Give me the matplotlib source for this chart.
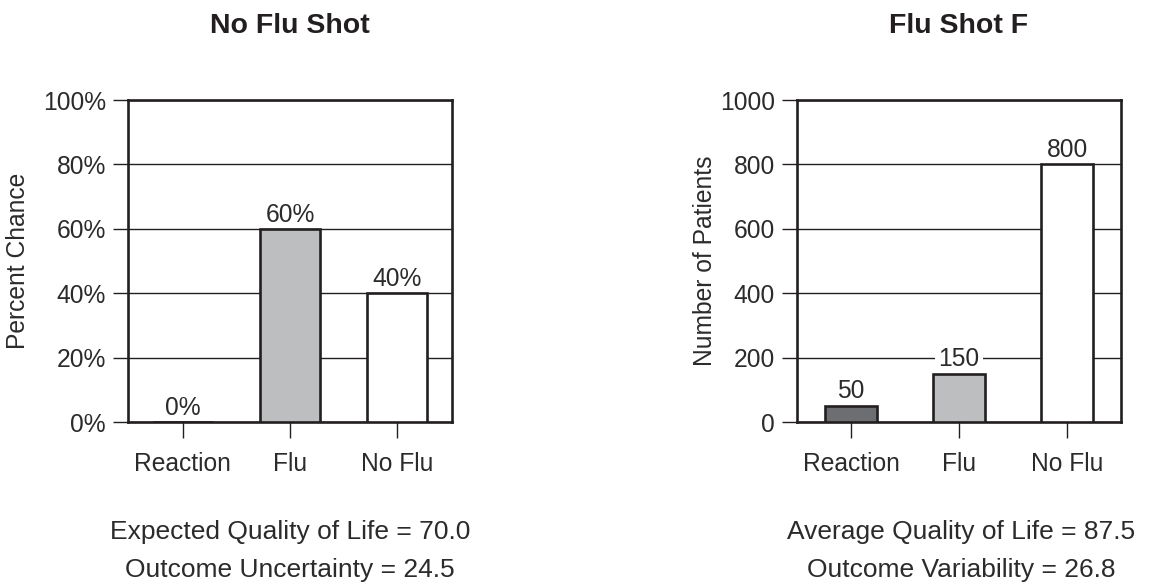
import matplotlib
matplotlib.use("Agg")
import matplotlib.pyplot as plt

plt.rcParams['font.family'] = ['Liberation Sans', 'DejaVu Sans']

categories = ["Reaction", "Flu", "No Flu"]
no_shot_pct = [0, 60, 40]
shot_counts = [50, 150, 800]
bar_colors = ["#6d6e71", "#bcbec0", "#ffffff"]

left_title = "No Flu Shot"
right_title = "Flu Shot F"
left_ylabel = "Percent Chance"
right_ylabel = "Number of Patients"
left_notes = ["Expected Quality of Life = 70.0", "Outcome Uncertainty = 24.5"]
right_notes = ["Average Quality of Life = 87.5", "Outcome Variability = 26.8"]
left_yticks = [0, 20, 40, 60, 80, 100]
left_yticklabels = ["0%", "20%", "40%", "60%", "80%", "100%"]
right_yticks = [0, 200, 400, 600, 800, 1000]

INK = "#231f20"
TXT = "#2b2b2b"
W, H = 1164, 586
fig = plt.figure(figsize=(W / 100, H / 100), dpi=100)

def px_ax(x0, y0, x1, y1):
    return fig.add_axes([x0 / W, 1 - y1 / H, (x1 - x0) / W, (y1 - y0) / H])

def style(ax, ymax, yticks, yticklabels):
    ax.set_ylim(0, ymax)
    ax.set_yticks(yticks)
    ax.set_yticklabels(yticklabels)
    ax.set_xticks(range(len(categories)))
    ax.set_xticklabels(categories)
    ax.set_axisbelow(True)
    ax.yaxis.grid(True, color=INK, linewidth=1.0)
    for s in ax.spines.values():
        s.set_linewidth(1.9)
        s.set_color(INK)
    ax.tick_params(axis='y', direction='out', length=10.8, width=1.0, pad=5,
                   labelsize=17.7, colors=INK, labelcolor=TXT)
    ax.tick_params(axis='x', direction='out', length=11.5, width=1.0, pad=10,
                   labelsize=17.7, colors=INK, labelcolor=TXT)

# Left panel
ax1 = px_ax(128, 100, 452, 422)
ax1.bar(range(3), no_shot_pct, width=0.56, color=bar_colors,
        edgecolor=INK, linewidth=1.9, zorder=3)
style(ax1, 100, left_yticks, left_yticklabels)
ax1.set_xlim(-0.51, 2.51)
for i, v in enumerate(no_shot_pct):
    ax1.annotate(f"{v}%", (i, v), xytext=(0, 1.5), textcoords='offset points',
                 ha='center', va='bottom', fontsize=17.7, color=TXT, zorder=4)

# Right panel
ax2 = px_ax(797, 100, 1121, 422)
ax2.bar(range(3), shot_counts, width=0.48, color=bar_colors,
        edgecolor=INK, linewidth=1.9, zorder=3)
style(ax2, 1000, right_yticks, [str(t) for t in right_yticks])
ax2.set_xlim(-0.5, 2.5)
for i, v in enumerate(shot_counts):
    ax2.annotate(f"{v}", (i, v), xytext=(0, 2), textcoords='offset points',
                 ha='center', va='bottom', fontsize=17.7, color=TXT, zorder=2.5,
                 bbox=dict(boxstyle='square,pad=0.15', fc='white', ec='none'))

# Titles
fig.text(290 / W, 1 - 26 / H, left_title, ha='center', va='center',
         fontsize=20.5, fontweight='bold', color=INK)
fig.text(959 / W, 1 - 26 / H, right_title, ha='center', va='center',
         fontsize=20.5, fontweight='bold', color=INK)

# Y labels
fig.text(18 / W, 1 - 261 / H, left_ylabel, rotation=90, ha='center', va='center',
         fontsize=17.7, color=TXT)
fig.text(705 / W, 1 - 261 / H, right_ylabel, rotation=90, ha='center', va='center',
         fontsize=17.7, color=TXT)

# Notes
for j, (ln, rn) in enumerate(zip(left_notes, right_notes)):
    y = 1 - (532 + 38 * j) / H
    fig.text(290 / W, y, ln, ha='center', va='center', fontsize=19, color=TXT)
    fig.text(961 / W, y, rn, ha='center', va='center', fontsize=19, color=TXT)

fig.savefig("out.png", dpi=100, facecolor='white')
